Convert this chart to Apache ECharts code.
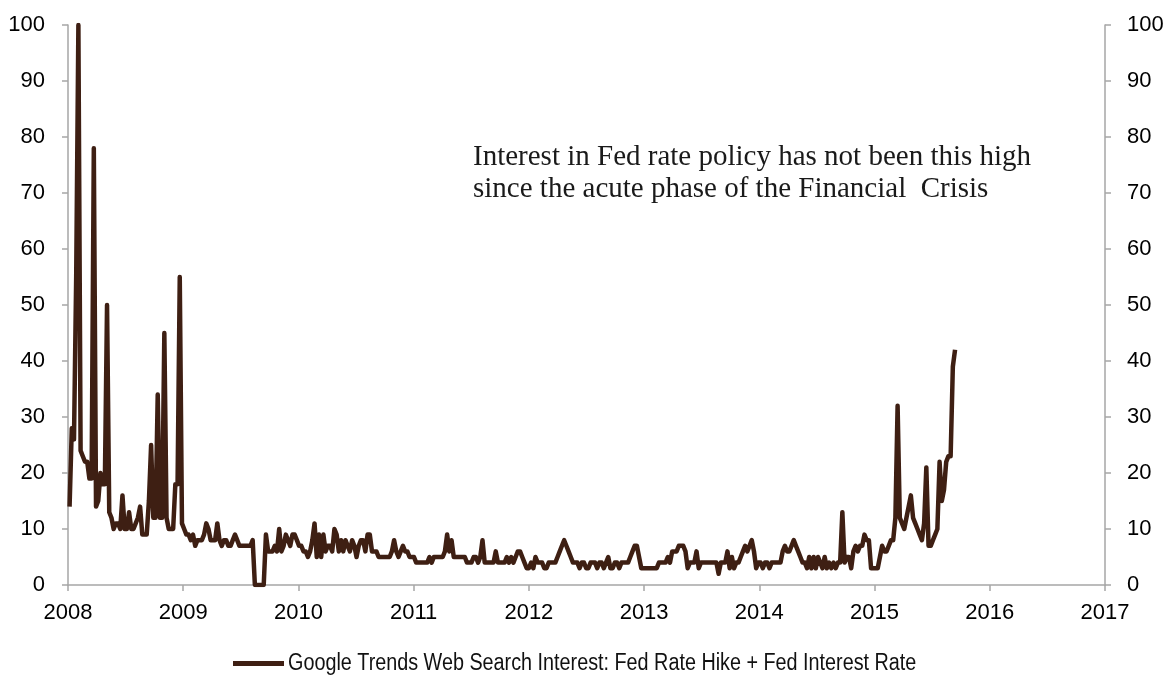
<!DOCTYPE html>
<html>
<head>
<meta charset="utf-8">
<script src="https://cdn.jsdelivr.net/npm/echarts@6/dist/echarts.min.js"></script>
<style>
html,body{margin:0;padding:0;background:#fff;}
#chart{width:1167px;height:677px;}
</style>
</head>
<body>
<div id="chart"></div>
<script>
// Weekly Google Trends values, first week starting 2008-01-06
const firstWeek = '2008-01-06';
const v2008 = [14,28,26,55,100,24,23,22,22,19, 19,78,14,15,20,18,18,50,13,12, 10,11,11,10,16,10,10,13,10,10, 11,12,14,9,9,9,15,25,12,12, 34,12,12,45,12,10,10,10,18,18, 55,11];
const v2009 = [10,9,9,8,9,7,8,8,8,9, 11,10,8,8,8,11,8,7,8,8, 7,7,8,9,8,7,7,7,7,7, 7,8,0,0,0,0,0,9,6,6, 6,7,6,10,6,7,9,8,7,9, 9,8];
const v2010 = [7,7,6,6,5,6,8,11,5,9, 5,9,6,7,7,6,10,9,6,8, 6,8,7,6,8,7,5,7,8,8, 6,9,9,6,6,6,5,5,5,5, 5,5,6,8,6,5,6,7,6,6, 5,5];
const v2011 = [5,4,4,4,4,4,4,5,4,5, 5,5,5,5,6,9,6,8,5,5, 5,5,5,5,4,4,4,5,5,4, 5,8,4,4,4,4,4,6,4,4, 4,4,5,4,5,4,5,6,6,5, 4,3];
const v2012 = [3,4,3,5,4,4,4,3,3,4, 4,4,4,5,6,7,8,7,6,5, 4,4,4,3,4,4,3,3,4,4, 4,3,4,4,3,4,5,3,3,4, 4,3,4,4,4,4,5,6,7,7, 5,3];
const v2013 = [3,3,3,3,3,3,3,4,4,4, 4,5,4,6,6,6,7,7,7,6, 3,4,4,4,6,3,4,4,4,4, 4,4,4,4,2,4,4,4,6,3, 5,3,4,4,5,6,7,6,7,8, 6,3];
const v2014 = [4,4,3,4,4,3,4,4,4,4, 4,6,7,6,6,7,8,7,6,5, 4,4,3,5,3,5,3,5,4,3, 5,3,4,3,4,3,4,4,13,4, 5,5,3,6,7,6,7,7,9,8, 8,3];
const v2015 = [3,3,3,5,7,6,6,7,8,8, 12,32,12,11,10,12,14,16,12,11, 10,9,8,11,21,7,7,8,9,10, 22,15,17,22,23,23,39,42];

const seriesName = 'Google Trends Web Search Interest: Fed Rate Hike + Fed Interest Rate';
const annotationLines = ['Interest in Fed rate policy has not been this high', 'since the acute phase of the Financial  Crisis'];
const xMin = 2008, xMax = 2017, yMin = 0, yMax = 100, yStep = 10;

const values = [].concat(v2008, v2009, v2010, v2011, v2012, v2013, v2014, v2015);
const start = Date.parse(firstWeek + 'T00:00:00Z');
function decYear(t) {
  const d = new Date(t);
  const y = d.getUTCFullYear();
  const s = Date.UTC(y, 0, 1), e = Date.UTC(y + 1, 0, 1);
  return y + (t - s) / (e - s);
}
const data = values.map((v, i) => [decYear(start + i * 7 * 86400000), v]);

const lineColor = '#3e1f13';
const axisGray = '#a6a6a6';
const labelFont = 'Liberation Sans, Arial, sans-serif';

const chart = echarts.init(document.getElementById('chart'), null, {renderer: 'canvas'});
const yAxisCommon = {
  type: 'value', min: yMin, max: yMax, interval: yStep,
  splitLine: {show: false},
  axisLine: {show: true, lineStyle: {color: axisGray, width: 1.5}},
  axisTick: {show: true, length: 6, lineStyle: {color: axisGray, width: 1.5}},
};
chart.setOption({
  animation: false,
  backgroundColor: '#fff',
  grid: {left: 68, right: 62, top: 25, bottom: 92},
  xAxis: {
    type: 'value', min: xMin, max: xMax, interval: 1,
    splitLine: {show: false},
    axisLine: {show: true, lineStyle: {color: axisGray, width: 1.5}},
    axisTick: {show: true, length: 6, lineStyle: {color: axisGray, width: 1.5}},
    axisLabel: {color: '#000', fontSize: 22, fontFamily: labelFont, margin: 17, formatter: v => String(v)}
  },
  yAxis: [
    Object.assign({}, yAxisCommon, {position: 'left',
      axisLabel: {color: '#000', fontSize: 22, fontFamily: labelFont, margin: 23}}),
    Object.assign({}, yAxisCommon, {position: 'right',
      axisLabel: {color: '#000', fontSize: 22, fontFamily: labelFont, margin: 22}})
  ],
  graphic: [{
    type: 'text', left: 473, top: 141,
    style: {
      text: annotationLines.join('\n'),
      font: '29px "Liberation Serif", "DejaVu Serif", serif',
      lineHeight: 32, fill: '#1a1a1a'
    }
  }, {
    type: 'rect', shape: {x: 233, y: 661, width: 51, height: 5},
    style: {fill: lineColor}
  }, {
    type: 'text', x: 288, y: 664, scaleX: 0.86,
    style: {
      text: seriesName, font: '23px "Liberation Sans", Arial, sans-serif',
      fill: '#111', verticalAlign: 'middle', align: 'left'
    }
  }],
  series: [{
    name: seriesName, type: 'line', yAxisIndex: 0,
    data: data, showSymbol: false, symbol: 'none',
    lineStyle: {color: lineColor, width: 4.5, join: 'round'},
    itemStyle: {color: lineColor}
  }]
});
</script>
</body>
</html>
